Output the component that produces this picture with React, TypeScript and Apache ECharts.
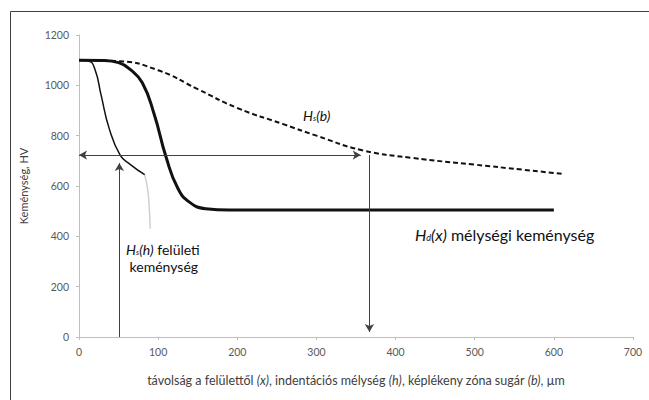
import React, { useEffect, useRef } from "react";
import * as echarts from "echarts";

// Thin curve: H_s(h) surface hardness
const thinX = [0, 12, 20, 28, 38, 52, 65, 83];
const thinY = [1100, 1097, 1065, 960, 830, 723, 685, 645];
// Light grey continuation of the thin curve
const greyX = [83, 87, 89, 90];
const greyY = [645, 580, 500, 430];
// Thick curve: H_d(x) depth hardness
const thickX = [0, 30, 50, 65, 80, 95, 110, 125, 140, 160, 190, 400, 600];
const thickY = [1100, 1099, 1090, 1062, 1010, 885, 715, 590, 535, 510, 505, 505, 505];
// Dashed curve: H_s(b)
const dashX = [0, 50, 100, 150, 200, 258, 300, 358, 420, 500, 560, 611];
const dashY = [1100, 1096, 1060, 985, 910, 846, 800, 742, 712, 685, 665, 648];

const xTicks = [0, 100, 200, 300, 400, 500, 600, 700];
const yTicks = [0, 200, 400, 600, 800, 1000, 1200];

// Arrow guide values
const hLevel = 723;
const hStartX = 0;
const hEndX = 356;
const upX = 51;
const upTop = 691;
const downX = 367;
const downBottom = 20;

const FONT = "Lato, 'Open Sans', sans-serif";

const pairs = (xs: number[], ys: number[]) => xs.map((x, i) => [x, ys[i]]);

export default function App() {
  const ref = useRef<HTMLDivElement>(null);
  useEffect(() => {
    if (!ref.current) return;
    const chart = echarts.init(ref.current, undefined, { renderer: "svg" });
    const arrowColor = "#404040";
    const nameRich = {
      n: { fontFamily: FONT, fontSize: 12.5, color: "#404040" },
      i: { fontFamily: FONT, fontSize: 12.5, color: "#404040", fontStyle: "italic" },
    };
    chart.setOption({
      animation: false,
      backgroundColor: "#ffffff",
      grid: { left: 79, right: 16, top: 35, bottom: 63 },
      xAxis: {
        type: "value",
        min: xTicks[0],
        max: xTicks[xTicks.length - 1],
        interval: 100,
        name:
          "{n|távolság a felülettől }{i|(x)}{n|, indentációs mélység }{i|(h)}{n|, képlékeny zóna sugár }{i|(b)}{n|, µm}",
        nameLocation: "middle",
        nameGap: 37,
        nameTextStyle: { fontFamily: FONT, fontSize: 12.5, color: "#404040", rich: nameRich },
        axisLine: { show: true, lineStyle: { color: "#bfbfbf", width: 1 } },
        axisTick: { show: true, length: 3, lineStyle: { color: "#bfbfbf" } },
        axisLabel: { fontFamily: FONT, fontSize: 10.5, color: "#595959", margin: 9, formatter: (v: number) => String(v) },
        splitLine: { show: false },
      },
      yAxis: {
        type: "value",
        min: yTicks[0],
        max: yTicks[yTicks.length - 1],
        interval: 200,
        name: "Keménység, HV",
        nameLocation: "middle",
        nameGap: 50,
        nameTextStyle: { fontFamily: FONT, fontSize: 11, color: "#404040" },
        axisLine: { show: true, lineStyle: { color: "#bfbfbf", width: 1 } },
        axisTick: { show: true, length: 3, lineStyle: { color: "#bfbfbf" } },
        axisLabel: { fontFamily: FONT, fontSize: 10.5, color: "#595959", margin: 10, formatter: (v: number) => String(v) },
        splitLine: { show: false },
      },
      series: [
        {
          type: "line",
          data: pairs(greyX, greyY),
          smooth: 0.5,
          symbol: "none",
          lineStyle: { color: "#d0d0d0", width: 1.5 },
        },
        {
          type: "line",
          data: pairs(dashX, dashY),
          smooth: 0.5,
          symbol: "none",
          lineStyle: { color: "#111111", width: 2, type: [5, 3] },
        },
        {
          type: "line",
          data: pairs(thickX, thickY),
          smooth: 0.5,
          symbol: "none",
          lineStyle: { color: "#111111", width: 3 },
        },
        {
          type: "line",
          data: pairs(thinX, thinY),
          smooth: 0.5,
          symbol: "none",
          lineStyle: { color: "#111111", width: 1.5 },
          markLine: {
            silent: true,
            symbol: ["arrow", "arrow"],
            symbolSize: [7, 8],
            label: { show: false },
            lineStyle: { color: arrowColor, width: 1, type: "solid" },
            data: [
              [
                { coord: [hStartX, hLevel], symbol: "arrow" },
                { coord: [hEndX, hLevel], symbol: "arrow" },
              ],
              [
                { coord: [upX, 0], symbol: "none" },
                { coord: [upX, upTop], symbol: "arrow" },
              ],
              [
                { coord: [downX, hLevel], symbol: "none" },
                { coord: [downX, downBottom], symbol: "arrow" },
              ],
            ],
          },
        },
      ],
      graphic: [
        {
          type: "line",
          shape: { x1: 10.5, y1: 11.5, x2: 10.5, y2: 400 },
          style: { stroke: "#404040", lineWidth: 1 },
          silent: true,
        },
        {
          type: "line",
          shape: { x1: 10.5, y1: 11.5, x2: 649, y2: 11.5 },
          style: { stroke: "#404040", lineWidth: 1 },
          silent: true,
        },
        {
          type: "text",
          x: 303,
          y: 105,
          style: {
            text: "{i|H}{s|s}{i|(b)}",
            fontFamily: FONT,
            align: "left",
            verticalAlign: "top",
            rich: {
              i: { fontFamily: FONT, fontSize: 14, fontStyle: "italic", fill: "#111", lineHeight: 17, verticalAlign: "bottom" },
              s: { fontFamily: FONT, fontSize: 8, fontStyle: "italic", fill: "#111", lineHeight: 17, verticalAlign: "bottom" },
            },
          },
        },
        {
          type: "text",
          x: 415,
          y: 224,
          style: {
            text: "{i|H}{s|d}{i|(x)}{n| mélységi keménység}",
            fontFamily: FONT,
            align: "left",
            verticalAlign: "top",
            rich: {
              i: { fontFamily: FONT, fontSize: 16, fontStyle: "italic", fill: "#111", lineHeight: 18, verticalAlign: "bottom" },
              s: { fontFamily: FONT, fontSize: 9, fontStyle: "italic", fill: "#111", lineHeight: 18, verticalAlign: "bottom" },
              n: { fontFamily: FONT, fontSize: 16, fill: "#111", lineHeight: 18, verticalAlign: "bottom" },
            },
          },
        },
        {
          type: "text",
          x: 126,
          y: 239,
          style: {
            text: "{i|H}{s|s}{i|(h)}{n| felületi}\n{n| keménység}",
            fontFamily: FONT,
            align: "left",
            verticalAlign: "top",
            rich: {
              i: { fontFamily: FONT, fontSize: 14, fontStyle: "italic", fill: "#111", lineHeight: 17, verticalAlign: "bottom", align: "left" },
              s: { fontFamily: FONT, fontSize: 8, fontStyle: "italic", fill: "#111", lineHeight: 17, verticalAlign: "bottom", align: "left" },
              n: { fontFamily: FONT, fontSize: 14, fill: "#111", lineHeight: 17, verticalAlign: "bottom", align: "left" },
            },
          },
        },
      ],
    });
    return () => chart.dispose();
  }, []);
  return (
    <div
      ref={ref}
      style={{ position: "fixed", left: 0, top: 0, width: 649, height: 400, background: "#fff" }}
    />
  );
}
